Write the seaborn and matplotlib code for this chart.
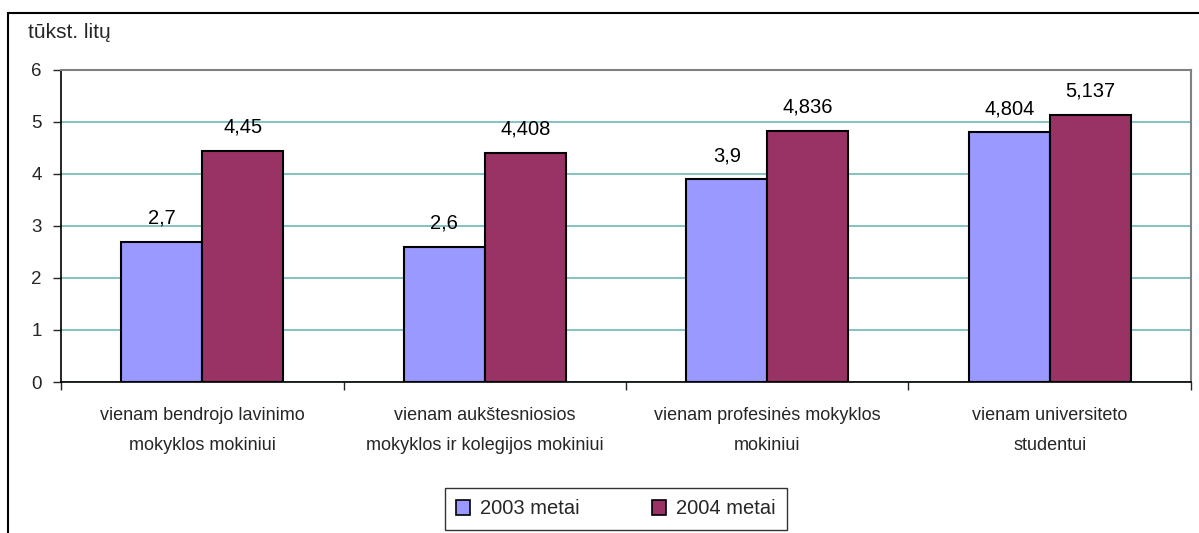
import matplotlib.pyplot as plt
import matplotlib.patches as mpatches
import numpy as np
import pandas as pd
import seaborn as sns

categories = [
    "vienam bendrojo lavinimo\nmokyklos mokiniui",
    "vienam aukštesniosios\nmokyklos ir kolegijos mokiniui",
    "vienam profesinės mokyklos\nmokiniui",
    "vienam universiteto\nstudentui",
]
series = ["2003 metai", "2004 metai"]
values_2003 = [2.7, 2.6, 3.9, 4.804]
values_2004 = [4.45, 4.408, 4.836, 5.137]
labels_2003 = ["2,7", "2,6", "3,9", "4,804"]
labels_2004 = ["4,45", "4,408", "4,836", "5,137"]
y_ticks = [0, 1, 2, 3, 4, 5, 6]

df = pd.DataFrame({
    "category": categories * 2,
    "series": [series[0]] * 4 + [series[1]] * 4,
    "value": values_2003 + values_2004,
})

sns.set_style("white")
plt.rcParams["font.family"] = ["Liberation Sans", "DejaVu Sans"]

fig = plt.figure(figsize=(11.99, 5.33), dpi=100)
ax = fig.add_axes([0.0509, 0.2833, 0.9424, 0.5854])

sns.barplot(
    data=df,
    x="category",
    y="value",
    hue="series",
    order=categories,
    hue_order=series,
    palette={"2003 metai": "#9999FF", "2004 metai": "#993366"},
    saturation=1,
    edgecolor="black",
    linewidth=1.5,
    width=0.574,
    gap=0,
    legend=False,
    ax=ax,
)

for cont, labs in zip(ax.containers, [labels_2003, labels_2004]):
    ax.bar_label(cont, labels=labs, padding=10, fontsize=14.5, color="black")

ax.set_ylim(0, 6)
ax.set_xlim(-0.5, 3.5)
ax.set_yticks(y_ticks)
ax.yaxis.grid(True, color="#6fb7b7", linewidth=1.2)
ax.set_axisbelow(True)
ax.set_xlabel("")
ax.set_ylabel("")
ax.tick_params(axis="y", length=6, width=1, direction="out", left=True, labelsize=13.5, pad=8)
ax.set_xticks(range(4))
ax.set_xticklabels(categories, fontsize=13)
for t in ax.get_xticklabels():
    t.set_linespacing(2.0)
ax.tick_params(axis="x", length=0, pad=18)
ax.set_xticks([-0.5, 0.5, 1.5, 2.5, 3.5], minor=True)
ax.tick_params(axis="x", which="minor", length=6, width=1, direction="out", bottom=True)

for side in ["top", "right"]:
    ax.spines[side].set_color("#808080")
    ax.spines[side].set_linewidth(1.5)
for side in ["left", "bottom"]:
    ax.spines[side].set_color("black")
    ax.spines[side].set_linewidth(1.2)

fig.text(28 / 1199, 1 - 33 / 533, "tūkst. litų", fontsize=15, va="center", ha="left")

handles = [mpatches.Patch(facecolor="#9999FF", edgecolor="black", linewidth=1.2),
           mpatches.Patch(facecolor="#993366", edgecolor="black", linewidth=1.2)]
leg = fig.legend(
    handles, series,
    loc="center", bbox_to_anchor=(616 / 1199, 1 - 509 / 533),
    ncol=2, frameon=True, fancybox=False, fontsize=14.5,
    handlelength=0.7, handleheight=0.7, handletextpad=0.5, columnspacing=3.6,
    borderpad=0.55, borderaxespad=0,
)
leg.get_frame().set_edgecolor("black")
leg.get_frame().set_linewidth(1.0)

border = mpatches.Rectangle((8 / 1199, -0.5), 2, 0.5 + (1 - 13 / 533), transform=fig.transFigure,
                            fill=False, edgecolor="black", linewidth=1.5, clip_on=False)
fig.patches.append(border)

fig.savefig("out.png", dpi=100)
